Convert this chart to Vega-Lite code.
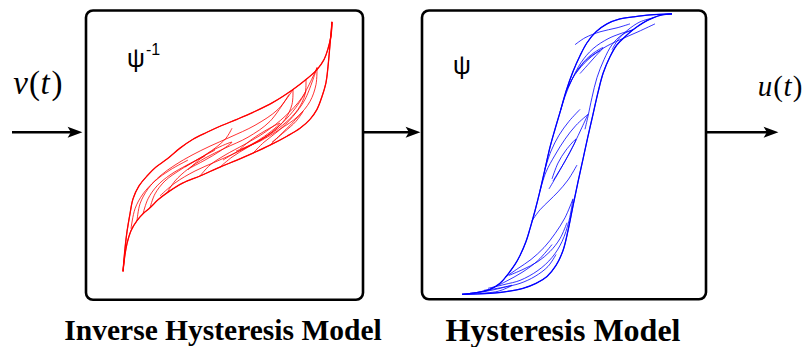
{
  "$schema": "https://vega.github.io/schema/vega-lite/v6.json",
  "width": 804,
  "height": 347,
  "autosize": {"type": "fit", "contains": "padding"},
  "padding": 0,
  "background": "white",
  "config": {"view": {"stroke": null}},
  "datasets": {
    "boxes": [
      {"name": "inverse", "x1": 86, "x2": 363, "y1": 10.5, "y2": 301.5},
      {"name": "direct", "x1": 422, "x2": 706, "y1": 10.5, "y2": 301}
    ],
    "arrows": [
      {"from": 12, "to": 76, "tip": 75, "y": 133},
      {"from": 363, "to": 414, "tip": 413, "y": 133},
      {"from": 706, "to": 772, "tip": 771, "y": 133}
    ],
    "italic": [
      {"t": "v", "x": 20.5, "y": 95, "size": "big"},
      {"t": "t", "x": 45, "y": 95, "size": "big"},
      {"t": "u", "x": 765, "y": 97, "size": "small"},
      {"t": "t", "x": 787.5, "y": 97, "size": "small"}
    ],
    "upright": [
      {"t": "(", "x": 34.5, "y": 95, "size": "big"},
      {"t": ")", "x": 57, "y": 95, "size": "big"},
      {"t": "(", "x": 778, "y": 97, "size": "small"},
      {"t": ")", "x": 797.5, "y": 97, "size": "small"}
    ],
    "psi": [
      {"t": "ψ", "x": 136, "y": 67},
      {"t": "ψ", "x": 462, "y": 74}
    ],
    "sup": [
      {"t": "-1", "x": 153, "y": 55}
    ],
    "titleInverse": [
      {"t": "Inverse Hysteresis Model", "x": 223, "y": 341.5}
    ],
    "titleDirect": [
      {"t": "Hysteresis Model", "x": 563, "y": 342.5}
    ],
    "loops": [
      {"c": "rU", "m": "inverse", "i": 0, "x": 123, "y": 273},
      {"c": "rU", "m": "inverse", "i": 1, "x": 125, "y": 250},
      {"c": "rU", "m": "inverse", "i": 2, "x": 127, "y": 233},
      {"c": "rU", "m": "inverse", "i": 3, "x": 130, "y": 215},
      {"c": "rU", "m": "inverse", "i": 4, "x": 133, "y": 200},
      {"c": "rU", "m": "inverse", "i": 5, "x": 139, "y": 187},
      {"c": "rU", "m": "inverse", "i": 6, "x": 147, "y": 177},
      {"c": "rU", "m": "inverse", "i": 7, "x": 156, "y": 168},
      {"c": "rU", "m": "inverse", "i": 8, "x": 167, "y": 160},
      {"c": "rU", "m": "inverse", "i": 9, "x": 180, "y": 149},
      {"c": "rU", "m": "inverse", "i": 10, "x": 193, "y": 140},
      {"c": "rU", "m": "inverse", "i": 11, "x": 207, "y": 133},
      {"c": "rU", "m": "inverse", "i": 12, "x": 220, "y": 127},
      {"c": "rU", "m": "inverse", "i": 13, "x": 237, "y": 120},
      {"c": "rU", "m": "inverse", "i": 14, "x": 253, "y": 113},
      {"c": "rU", "m": "inverse", "i": 15, "x": 273, "y": 103},
      {"c": "rU", "m": "inverse", "i": 16, "x": 293, "y": 90},
      {"c": "rU", "m": "inverse", "i": 17, "x": 306, "y": 80},
      {"c": "rU", "m": "inverse", "i": 18, "x": 317, "y": 70},
      {"c": "rU", "m": "inverse", "i": 19, "x": 324, "y": 60},
      {"c": "rU", "m": "inverse", "i": 20, "x": 328, "y": 49},
      {"c": "rU", "m": "inverse", "i": 21, "x": 331, "y": 36},
      {"c": "rU", "m": "inverse", "i": 22, "x": 332, "y": 22},

      {"c": "rL", "m": "inverse", "i": 0, "x": 123, "y": 273},
      {"c": "rL", "m": "inverse", "i": 1, "x": 125, "y": 256},
      {"c": "rL", "m": "inverse", "i": 2, "x": 127, "y": 245},
      {"c": "rL", "m": "inverse", "i": 3, "x": 131, "y": 232},
      {"c": "rL", "m": "inverse", "i": 4, "x": 137, "y": 222},
      {"c": "rL", "m": "inverse", "i": 5, "x": 143, "y": 215},
      {"c": "rL", "m": "inverse", "i": 6, "x": 150, "y": 209},
      {"c": "rL", "m": "inverse", "i": 7, "x": 158, "y": 201},
      {"c": "rL", "m": "inverse", "i": 8, "x": 167, "y": 194},
      {"c": "rL", "m": "inverse", "i": 9, "x": 183, "y": 184},
      {"c": "rL", "m": "inverse", "i": 10, "x": 200, "y": 177},
      {"c": "rL", "m": "inverse", "i": 11, "x": 220, "y": 168},
      {"c": "rL", "m": "inverse", "i": 12, "x": 237, "y": 161},
      {"c": "rL", "m": "inverse", "i": 13, "x": 253, "y": 154},
      {"c": "rL", "m": "inverse", "i": 14, "x": 270, "y": 146},
      {"c": "rL", "m": "inverse", "i": 15, "x": 287, "y": 137},
      {"c": "rL", "m": "inverse", "i": 16, "x": 300, "y": 129},
      {"c": "rL", "m": "inverse", "i": 17, "x": 310, "y": 120},
      {"c": "rL", "m": "inverse", "i": 18, "x": 317, "y": 110},
      {"c": "rL", "m": "inverse", "i": 19, "x": 322, "y": 97},
      {"c": "rL", "m": "inverse", "i": 20, "x": 326, "y": 83},
      {"c": "rL", "m": "inverse", "i": 21, "x": 328, "y": 67},
      {"c": "rL", "m": "inverse", "i": 22, "x": 330, "y": 45},
      {"c": "rL", "m": "inverse", "i": 23, "x": 332, "y": 22},

      {"c": "r1", "m": "inverse", "i": 0, "x": 137, "y": 222},
      {"c": "r1", "m": "inverse", "i": 1, "x": 140, "y": 205},
      {"c": "r1", "m": "inverse", "i": 2, "x": 148, "y": 190},
      {"c": "r1", "m": "inverse", "i": 3, "x": 160, "y": 177},
      {"c": "r1", "m": "inverse", "i": 4, "x": 175, "y": 166},
      {"c": "r1", "m": "inverse", "i": 5, "x": 192, "y": 156},
      {"c": "r1", "m": "inverse", "i": 6, "x": 210, "y": 147},
      {"c": "r1", "m": "inverse", "i": 7, "x": 230, "y": 138},
      {"c": "r1", "m": "inverse", "i": 8, "x": 255, "y": 126},
      {"c": "r1", "m": "inverse", "i": 9, "x": 278, "y": 110},
      {"c": "r1", "m": "inverse", "i": 10, "x": 293, "y": 90},

      {"c": "r2", "m": "inverse", "i": 0, "x": 167, "y": 194},
      {"c": "r2", "m": "inverse", "i": 1, "x": 175, "y": 182},
      {"c": "r2", "m": "inverse", "i": 2, "x": 188, "y": 170},
      {"c": "r2", "m": "inverse", "i": 3, "x": 205, "y": 159},
      {"c": "r2", "m": "inverse", "i": 4, "x": 225, "y": 149},
      {"c": "r2", "m": "inverse", "i": 5, "x": 248, "y": 138},
      {"c": "r2", "m": "inverse", "i": 6, "x": 270, "y": 122},
      {"c": "r2", "m": "inverse", "i": 7, "x": 289, "y": 95},

      {"c": "r3", "m": "inverse", "i": 0, "x": 293, "y": 90},
      {"c": "r3", "m": "inverse", "i": 1, "x": 292, "y": 105},
      {"c": "r3", "m": "inverse", "i": 2, "x": 285, "y": 120},
      {"c": "r3", "m": "inverse", "i": 3, "x": 272, "y": 133},
      {"c": "r3", "m": "inverse", "i": 4, "x": 255, "y": 144},
      {"c": "r3", "m": "inverse", "i": 5, "x": 235, "y": 154},
      {"c": "r3", "m": "inverse", "i": 6, "x": 215, "y": 163},
      {"c": "r3", "m": "inverse", "i": 7, "x": 195, "y": 172},
      {"c": "r3", "m": "inverse", "i": 8, "x": 175, "y": 184},
      {"c": "r3", "m": "inverse", "i": 9, "x": 160, "y": 197},

      {"c": "r4", "m": "inverse", "i": 0, "x": 317, "y": 68},
      {"c": "r4", "m": "inverse", "i": 1, "x": 316, "y": 85},
      {"c": "r4", "m": "inverse", "i": 2, "x": 310, "y": 102},
      {"c": "r4", "m": "inverse", "i": 3, "x": 298, "y": 117},
      {"c": "r4", "m": "inverse", "i": 4, "x": 280, "y": 130},
      {"c": "r4", "m": "inverse", "i": 5, "x": 260, "y": 142},
      {"c": "r4", "m": "inverse", "i": 6, "x": 240, "y": 151},
      {"c": "r4", "m": "inverse", "i": 7, "x": 223, "y": 161},

      {"c": "r5", "m": "inverse", "i": 0, "x": 200, "y": 177},
      {"c": "r5", "m": "inverse", "i": 1, "x": 210, "y": 166},
      {"c": "r5", "m": "inverse", "i": 2, "x": 225, "y": 156},
      {"c": "r5", "m": "inverse", "i": 3, "x": 245, "y": 145},
      {"c": "r5", "m": "inverse", "i": 4, "x": 265, "y": 133},
      {"c": "r5", "m": "inverse", "i": 5, "x": 285, "y": 117},
      {"c": "r5", "m": "inverse", "i": 6, "x": 302, "y": 98},
      {"c": "r5", "m": "inverse", "i": 7, "x": 317, "y": 68},

      {"c": "r6", "m": "inverse", "i": 0, "x": 253, "y": 154},
      {"c": "r6", "m": "inverse", "i": 1, "x": 264, "y": 143},
      {"c": "r6", "m": "inverse", "i": 2, "x": 278, "y": 132},
      {"c": "r6", "m": "inverse", "i": 3, "x": 293, "y": 117},
      {"c": "r6", "m": "inverse", "i": 4, "x": 305, "y": 100},
      {"c": "r6", "m": "inverse", "i": 5, "x": 317, "y": 68},

      {"c": "r7", "m": "inverse", "i": 0, "x": 188, "y": 171},
      {"c": "r7", "m": "inverse", "i": 1, "x": 200, "y": 160},
      {"c": "r7", "m": "inverse", "i": 2, "x": 215, "y": 150},
      {"c": "r7", "m": "inverse", "i": 3, "x": 232, "y": 143},
      {"c": "r7", "m": "inverse", "i": 4, "x": 220, "y": 152},
      {"c": "r7", "m": "inverse", "i": 5, "x": 205, "y": 161},
      {"c": "r7", "m": "inverse", "i": 6, "x": 190, "y": 169},

      {"c": "r8", "m": "inverse", "i": 0, "x": 150, "y": 209},
      {"c": "r8", "m": "inverse", "i": 1, "x": 155, "y": 195},
      {"c": "r8", "m": "inverse", "i": 2, "x": 165, "y": 182},
      {"c": "r8", "m": "inverse", "i": 3, "x": 180, "y": 171},
      {"c": "r8", "m": "inverse", "i": 4, "x": 198, "y": 160},
      {"c": "r8", "m": "inverse", "i": 5, "x": 215, "y": 151},

      {"c": "r9", "m": "inverse", "i": 0, "x": 232, "y": 129},
      {"c": "r9", "m": "inverse", "i": 1, "x": 226, "y": 139},
      {"c": "r9", "m": "inverse", "i": 2, "x": 215, "y": 149},
      {"c": "r9", "m": "inverse", "i": 3, "x": 200, "y": 159},
      {"c": "r9", "m": "inverse", "i": 4, "x": 185, "y": 168},

      {"c": "r10", "m": "inverse", "i": 0, "x": 270, "y": 146},
      {"c": "r10", "m": "inverse", "i": 1, "x": 280, "y": 136},
      {"c": "r10", "m": "inverse", "i": 2, "x": 292, "y": 124},
      {"c": "r10", "m": "inverse", "i": 3, "x": 303, "y": 112},
      {"c": "r10", "m": "inverse", "i": 4, "x": 296, "y": 122},
      {"c": "r10", "m": "inverse", "i": 5, "x": 284, "y": 133},
      {"c": "r10", "m": "inverse", "i": 6, "x": 272, "y": 143},

      {"c": "r11", "m": "inverse", "i": 0, "x": 220, "y": 168},
      {"c": "r11", "m": "inverse", "i": 1, "x": 232, "y": 158},
      {"c": "r11", "m": "inverse", "i": 2, "x": 248, "y": 148},
      {"c": "r11", "m": "inverse", "i": 3, "x": 265, "y": 138},
      {"c": "r11", "m": "inverse", "i": 4, "x": 282, "y": 124},
      {"c": "r11", "m": "inverse", "i": 5, "x": 296, "y": 108},
      {"c": "r11", "m": "inverse", "i": 6, "x": 306, "y": 92},

      {"c": "r12", "m": "inverse", "i": 0, "x": 306, "y": 80},
      {"c": "r12", "m": "inverse", "i": 1, "x": 305, "y": 95},
      {"c": "r12", "m": "inverse", "i": 2, "x": 298, "y": 110},
      {"c": "r12", "m": "inverse", "i": 3, "x": 286, "y": 123},
      {"c": "r12", "m": "inverse", "i": 4, "x": 270, "y": 135},
      {"c": "r12", "m": "inverse", "i": 5, "x": 252, "y": 145},
      {"c": "r12", "m": "inverse", "i": 6, "x": 236, "y": 152},

      {"c": "r13", "m": "inverse", "i": 0, "x": 143, "y": 215},
      {"c": "r13", "m": "inverse", "i": 1, "x": 148, "y": 200},
      {"c": "r13", "m": "inverse", "i": 2, "x": 157, "y": 187},
      {"c": "r13", "m": "inverse", "i": 3, "x": 170, "y": 176},
      {"c": "r13", "m": "inverse", "i": 4, "x": 187, "y": 166},
      {"c": "r13", "m": "inverse", "i": 5, "x": 205, "y": 157},

      {"c": "r14", "m": "inverse", "i": 0, "x": 240, "y": 150},
      {"c": "r14", "m": "inverse", "i": 1, "x": 252, "y": 140},
      {"c": "r14", "m": "inverse", "i": 2, "x": 266, "y": 131},
      {"c": "r14", "m": "inverse", "i": 3, "x": 280, "y": 124},
      {"c": "r14", "m": "inverse", "i": 4, "x": 270, "y": 133},
      {"c": "r14", "m": "inverse", "i": 5, "x": 257, "y": 142},
      {"c": "r14", "m": "inverse", "i": 6, "x": 243, "y": 150},

      {"c": "r15", "m": "inverse", "i": 0, "x": 131, "y": 230},
      {"c": "r15", "m": "inverse", "i": 1, "x": 135, "y": 210},
      {"c": "r15", "m": "inverse", "i": 2, "x": 143, "y": 195},
      {"c": "r15", "m": "inverse", "i": 3, "x": 155, "y": 182},
      {"c": "r15", "m": "inverse", "i": 4, "x": 170, "y": 171},
      {"c": "r15", "m": "inverse", "i": 5, "x": 188, "y": 161},

      {"c": "bL", "m": "direct", "i": 0, "x": 462, "y": 296},
      {"c": "bL", "m": "direct", "i": 1, "x": 478, "y": 294},
      {"c": "bL", "m": "direct", "i": 2, "x": 490, "y": 291},
      {"c": "bL", "m": "direct", "i": 3, "x": 500, "y": 285},
      {"c": "bL", "m": "direct", "i": 4, "x": 507, "y": 277},
      {"c": "bL", "m": "direct", "i": 5, "x": 515, "y": 266},
      {"c": "bL", "m": "direct", "i": 6, "x": 520, "y": 257},
      {"c": "bL", "m": "direct", "i": 7, "x": 526, "y": 243},
      {"c": "bL", "m": "direct", "i": 8, "x": 530, "y": 230},
      {"c": "bL", "m": "direct", "i": 9, "x": 535, "y": 212},
      {"c": "bL", "m": "direct", "i": 10, "x": 540, "y": 192},
      {"c": "bL", "m": "direct", "i": 11, "x": 545, "y": 170},
      {"c": "bL", "m": "direct", "i": 12, "x": 550, "y": 148},
      {"c": "bL", "m": "direct", "i": 13, "x": 555, "y": 130},
      {"c": "bL", "m": "direct", "i": 14, "x": 560, "y": 113},
      {"c": "bL", "m": "direct", "i": 15, "x": 566, "y": 92},
      {"c": "bL", "m": "direct", "i": 16, "x": 573, "y": 72},
      {"c": "bL", "m": "direct", "i": 17, "x": 580, "y": 56},
      {"c": "bL", "m": "direct", "i": 18, "x": 587, "y": 43},
      {"c": "bL", "m": "direct", "i": 19, "x": 596, "y": 32},
      {"c": "bL", "m": "direct", "i": 20, "x": 607, "y": 24},
      {"c": "bL", "m": "direct", "i": 21, "x": 620, "y": 19},
      {"c": "bL", "m": "direct", "i": 22, "x": 633, "y": 17},
      {"c": "bL", "m": "direct", "i": 23, "x": 650, "y": 15},
      {"c": "bL", "m": "direct", "i": 24, "x": 672, "y": 14},

      {"c": "bR", "m": "direct", "i": 0, "x": 462, "y": 296},
      {"c": "bR", "m": "direct", "i": 1, "x": 490, "y": 295},
      {"c": "bR", "m": "direct", "i": 2, "x": 508, "y": 293},
      {"c": "bR", "m": "direct", "i": 3, "x": 523, "y": 290},
      {"c": "bR", "m": "direct", "i": 4, "x": 536, "y": 285},
      {"c": "bR", "m": "direct", "i": 5, "x": 547, "y": 278},
      {"c": "bR", "m": "direct", "i": 6, "x": 556, "y": 267},
      {"c": "bR", "m": "direct", "i": 7, "x": 563, "y": 252},
      {"c": "bR", "m": "direct", "i": 8, "x": 568, "y": 232},
      {"c": "bR", "m": "direct", "i": 9, "x": 573, "y": 207},
      {"c": "bR", "m": "direct", "i": 10, "x": 578, "y": 183},
      {"c": "bR", "m": "direct", "i": 11, "x": 583, "y": 160},
      {"c": "bR", "m": "direct", "i": 12, "x": 588, "y": 137},
      {"c": "bR", "m": "direct", "i": 13, "x": 593, "y": 115},
      {"c": "bR", "m": "direct", "i": 14, "x": 598, "y": 93},
      {"c": "bR", "m": "direct", "i": 15, "x": 603, "y": 74},
      {"c": "bR", "m": "direct", "i": 16, "x": 610, "y": 57},
      {"c": "bR", "m": "direct", "i": 17, "x": 617, "y": 45},
      {"c": "bR", "m": "direct", "i": 18, "x": 625, "y": 37},
      {"c": "bR", "m": "direct", "i": 19, "x": 633, "y": 30},
      {"c": "bR", "m": "direct", "i": 20, "x": 643, "y": 23},
      {"c": "bR", "m": "direct", "i": 21, "x": 653, "y": 18},
      {"c": "bR", "m": "direct", "i": 22, "x": 662, "y": 15},
      {"c": "bR", "m": "direct", "i": 23, "x": 672, "y": 14},

      {"c": "b1", "m": "direct", "i": 0, "x": 560, "y": 113},
      {"c": "b1", "m": "direct", "i": 1, "x": 565, "y": 97},
      {"c": "b1", "m": "direct", "i": 2, "x": 572, "y": 80},
      {"c": "b1", "m": "direct", "i": 3, "x": 581, "y": 63},
      {"c": "b1", "m": "direct", "i": 4, "x": 593, "y": 49},
      {"c": "b1", "m": "direct", "i": 5, "x": 608, "y": 39},
      {"c": "b1", "m": "direct", "i": 6, "x": 620, "y": 34},
      {"c": "b1", "m": "direct", "i": 7, "x": 633, "y": 30},

      {"c": "b2", "m": "direct", "i": 0, "x": 633, "y": 30},
      {"c": "b2", "m": "direct", "i": 1, "x": 622, "y": 35},
      {"c": "b2", "m": "direct", "i": 2, "x": 612, "y": 45},
      {"c": "b2", "m": "direct", "i": 3, "x": 604, "y": 60},
      {"c": "b2", "m": "direct", "i": 4, "x": 597, "y": 78},
      {"c": "b2", "m": "direct", "i": 5, "x": 592, "y": 98},
      {"c": "b2", "m": "direct", "i": 6, "x": 588, "y": 117},
      {"c": "b2", "m": "direct", "i": 7, "x": 585, "y": 130},

      {"c": "b3", "m": "direct", "i": 0, "x": 577, "y": 72},
      {"c": "b3", "m": "direct", "i": 1, "x": 584, "y": 62},
      {"c": "b3", "m": "direct", "i": 2, "x": 594, "y": 53},
      {"c": "b3", "m": "direct", "i": 3, "x": 603, "y": 48},
      {"c": "b3", "m": "direct", "i": 4, "x": 596, "y": 56},
      {"c": "b3", "m": "direct", "i": 5, "x": 588, "y": 65},
      {"c": "b3", "m": "direct", "i": 6, "x": 580, "y": 74},

      {"c": "b3b", "m": "direct", "i": 0, "x": 568, "y": 88},
      {"c": "b3b", "m": "direct", "i": 1, "x": 577, "y": 71},
      {"c": "b3b", "m": "direct", "i": 2, "x": 589, "y": 58},
      {"c": "b3b", "m": "direct", "i": 3, "x": 600, "y": 51},

      {"c": "b3c", "m": "direct", "i": 0, "x": 575, "y": 45},
      {"c": "b3c", "m": "direct", "i": 1, "x": 585, "y": 38},
      {"c": "b3c", "m": "direct", "i": 2, "x": 600, "y": 32},
      {"c": "b3c", "m": "direct", "i": 3, "x": 617, "y": 28},
      {"c": "b3c", "m": "direct", "i": 4, "x": 630, "y": 24},

      {"c": "b4", "m": "direct", "i": 0, "x": 540, "y": 192},
      {"c": "b4", "m": "direct", "i": 1, "x": 546, "y": 173},
      {"c": "b4", "m": "direct", "i": 2, "x": 555, "y": 156},
      {"c": "b4", "m": "direct", "i": 3, "x": 565, "y": 140},
      {"c": "b4", "m": "direct", "i": 4, "x": 576, "y": 126},
      {"c": "b4", "m": "direct", "i": 5, "x": 588, "y": 115},

      {"c": "b5", "m": "direct", "i": 0, "x": 588, "y": 115},
      {"c": "b5", "m": "direct", "i": 1, "x": 582, "y": 128},
      {"c": "b5", "m": "direct", "i": 2, "x": 574, "y": 145},
      {"c": "b5", "m": "direct", "i": 3, "x": 565, "y": 162},
      {"c": "b5", "m": "direct", "i": 4, "x": 556, "y": 178},
      {"c": "b5", "m": "direct", "i": 5, "x": 549, "y": 190},

      {"c": "b6", "m": "direct", "i": 0, "x": 552, "y": 180},
      {"c": "b6", "m": "direct", "i": 1, "x": 558, "y": 164},
      {"c": "b6", "m": "direct", "i": 2, "x": 566, "y": 151},
      {"c": "b6", "m": "direct", "i": 3, "x": 576, "y": 140},
      {"c": "b6", "m": "direct", "i": 4, "x": 569, "y": 155},
      {"c": "b6", "m": "direct", "i": 5, "x": 561, "y": 169},
      {"c": "b6", "m": "direct", "i": 6, "x": 553, "y": 182},

      {"c": "b7", "m": "direct", "i": 0, "x": 532, "y": 222},
      {"c": "b7", "m": "direct", "i": 1, "x": 540, "y": 211},
      {"c": "b7", "m": "direct", "i": 2, "x": 549, "y": 202},
      {"c": "b7", "m": "direct", "i": 3, "x": 558, "y": 193},
      {"c": "b7", "m": "direct", "i": 4, "x": 568, "y": 181},
      {"c": "b7", "m": "direct", "i": 5, "x": 577, "y": 166},

      {"c": "b8", "m": "direct", "i": 0, "x": 505, "y": 279},
      {"c": "b8", "m": "direct", "i": 1, "x": 518, "y": 270},
      {"c": "b8", "m": "direct", "i": 2, "x": 531, "y": 261},
      {"c": "b8", "m": "direct", "i": 3, "x": 544, "y": 249},
      {"c": "b8", "m": "direct", "i": 4, "x": 555, "y": 235},
      {"c": "b8", "m": "direct", "i": 5, "x": 565, "y": 219},
      {"c": "b8", "m": "direct", "i": 6, "x": 573, "y": 200},

      {"c": "b9", "m": "direct", "i": 0, "x": 509, "y": 277},
      {"c": "b9", "m": "direct", "i": 1, "x": 523, "y": 271},
      {"c": "b9", "m": "direct", "i": 2, "x": 538, "y": 263},
      {"c": "b9", "m": "direct", "i": 3, "x": 550, "y": 253},
      {"c": "b9", "m": "direct", "i": 4, "x": 560, "y": 240},
      {"c": "b9", "m": "direct", "i": 5, "x": 567, "y": 224},

      {"c": "b10", "m": "direct", "i": 0, "x": 573, "y": 200},
      {"c": "b10", "m": "direct", "i": 1, "x": 569, "y": 222},
      {"c": "b10", "m": "direct", "i": 2, "x": 562, "y": 243},
      {"c": "b10", "m": "direct", "i": 3, "x": 552, "y": 259},
      {"c": "b10", "m": "direct", "i": 4, "x": 538, "y": 272},
      {"c": "b10", "m": "direct", "i": 5, "x": 520, "y": 282},
      {"c": "b10", "m": "direct", "i": 6, "x": 505, "y": 286},
      {"c": "b10", "m": "direct", "i": 7, "x": 488, "y": 290},

      {"c": "b11", "m": "direct", "i": 0, "x": 484, "y": 292},
      {"c": "b11", "m": "direct", "i": 1, "x": 503, "y": 289},
      {"c": "b11", "m": "direct", "i": 2, "x": 520, "y": 285},
      {"c": "b11", "m": "direct", "i": 3, "x": 535, "y": 278},
      {"c": "b11", "m": "direct", "i": 4, "x": 548, "y": 268},
      {"c": "b11", "m": "direct", "i": 5, "x": 556, "y": 256},

      {"c": "b12", "m": "direct", "i": 0, "x": 470, "y": 295},
      {"c": "b12", "m": "direct", "i": 1, "x": 486, "y": 293},
      {"c": "b12", "m": "direct", "i": 2, "x": 500, "y": 290},
      {"c": "b12", "m": "direct", "i": 3, "x": 512, "y": 287},
      {"c": "b12", "m": "direct", "i": 4, "x": 498, "y": 293},
      {"c": "b12", "m": "direct", "i": 5, "x": 480, "y": 295},

      {"c": "b13", "m": "direct", "i": 0, "x": 566, "y": 92},
      {"c": "b13", "m": "direct", "i": 1, "x": 575, "y": 75},
      {"c": "b13", "m": "direct", "i": 2, "x": 588, "y": 60},
      {"c": "b13", "m": "direct", "i": 3, "x": 604, "y": 48},
      {"c": "b13", "m": "direct", "i": 4, "x": 620, "y": 40},
      {"c": "b13", "m": "direct", "i": 5, "x": 638, "y": 32},
      {"c": "b13", "m": "direct", "i": 6, "x": 655, "y": 24},

      {"c": "b14", "m": "direct", "i": 0, "x": 653, "y": 18},
      {"c": "b14", "m": "direct", "i": 1, "x": 640, "y": 22},
      {"c": "b14", "m": "direct", "i": 2, "x": 628, "y": 30},
      {"c": "b14", "m": "direct", "i": 3, "x": 618, "y": 40},
      {"c": "b14", "m": "direct", "i": 4, "x": 612, "y": 50},

      {"c": "b15", "m": "direct", "i": 0, "x": 545, "y": 170},
      {"c": "b15", "m": "direct", "i": 1, "x": 551, "y": 152},
      {"c": "b15", "m": "direct", "i": 2, "x": 559, "y": 136},
      {"c": "b15", "m": "direct", "i": 3, "x": 569, "y": 122},
      {"c": "b15", "m": "direct", "i": 4, "x": 580, "y": 110},

      {"c": "b16", "m": "direct", "i": 0, "x": 490, "y": 291},
      {"c": "b16", "m": "direct", "i": 1, "x": 506, "y": 283},
      {"c": "b16", "m": "direct", "i": 2, "x": 522, "y": 274},
      {"c": "b16", "m": "direct", "i": 3, "x": 538, "y": 262},
      {"c": "b16", "m": "direct", "i": 4, "x": 552, "y": 246}
    ]
  },
  "layer": [
    {
      "data": {"name": "boxes"},
      "mark": {"type": "rect", "fill": "white", "stroke": "black", "strokeWidth": 2.6, "cornerRadius": 7},
      "encoding": {
        "x": {"field": "x1", "type": "quantitative", "scale": {"domain": [0, 804], "nice": false, "zero": false}, "axis": null},
        "x2": {"field": "x2"},
        "y": {"field": "y1", "type": "quantitative", "scale": {"domain": [0, 347], "nice": false, "zero": false, "reverse": true}, "axis": null},
        "y2": {"field": "y2"}
      }
    },
    {
      "data": {"name": "loops"},
      "mark": {"type": "line", "interpolate": "catmull-rom", "strokeWidth": 1, "opacity": 0.8},
      "encoding": {
        "x": {"field": "x", "type": "quantitative"},
        "y": {"field": "y", "type": "quantitative"},
        "detail": {"field": "c"},
        "order": {"field": "i", "type": "quantitative"},
        "color": {"field": "m", "type": "nominal", "scale": {"domain": ["inverse", "direct"], "range": ["#ff0000", "#0000ff"]}, "legend": null}
      }
    },
    {
      "data": {"name": "loops"},
      "transform": [{"filter": {"field": "c", "oneOf": ["rU", "rL", "bL", "bR"]}}],
      "mark": {"type": "line", "interpolate": "catmull-rom", "strokeWidth": 1.3},
      "encoding": {
        "x": {"field": "x", "type": "quantitative"},
        "y": {"field": "y", "type": "quantitative"},
        "detail": {"field": "c"},
        "order": {"field": "i", "type": "quantitative"},
        "color": {"field": "m", "type": "nominal", "scale": {"domain": ["inverse", "direct"], "range": ["#ff0000", "#0000ff"]}, "legend": null}
      }
    },
    {
      "data": {"name": "arrows"},
      "mark": {"type": "rule", "color": "black", "strokeWidth": 2.6},
      "encoding": {
        "x": {"field": "from", "type": "quantitative"},
        "x2": {"field": "to"},
        "y": {"field": "y", "type": "quantitative"}
      }
    },
    {
      "data": {"name": "arrows"},
      "mark": {"type": "point", "shape": "M 1 0 L -1 -0.75 L -0.55 0 L -1 0.75 Z", "filled": true, "color": "black", "opacity": 1, "size": 220},
      "encoding": {
        "x": {"field": "tip", "type": "quantitative"},
        "y": {"field": "y", "type": "quantitative"}
      }
    },
    {
      "data": {"name": "italic"},
      "mark": {"type": "text", "font": "Liberation Serif", "fontStyle": "italic", "align": "center", "baseline": "alphabetic", "color": "black"},
      "encoding": {
        "x": {"field": "x", "type": "quantitative"},
        "y": {"field": "y", "type": "quantitative"},
        "text": {"field": "t"},
        "size": {"field": "size", "type": "nominal", "scale": {"domain": ["big", "small"], "range": [33, 29]}, "legend": null}
      }
    },
    {
      "data": {"name": "upright"},
      "mark": {"type": "text", "font": "Liberation Serif", "align": "center", "baseline": "alphabetic", "color": "black"},
      "encoding": {
        "x": {"field": "x", "type": "quantitative"},
        "y": {"field": "y", "type": "quantitative"},
        "text": {"field": "t"},
        "size": {"field": "size", "type": "nominal", "scale": {"domain": ["big", "small"], "range": [33, 29]}, "legend": null}
      }
    },
    {
      "data": {"name": "psi"},
      "mark": {"type": "text", "font": "Liberation Sans", "fontSize": 25, "align": "center", "baseline": "alphabetic", "color": "black"},
      "encoding": {
        "x": {"field": "x", "type": "quantitative"},
        "y": {"field": "y", "type": "quantitative"},
        "text": {"field": "t"}
      }
    },
    {
      "data": {"name": "sup"},
      "mark": {"type": "text", "font": "Liberation Sans", "fontSize": 16, "align": "center", "baseline": "alphabetic", "color": "black"},
      "encoding": {
        "x": {"field": "x", "type": "quantitative"},
        "y": {"field": "y", "type": "quantitative"},
        "text": {"field": "t"}
      }
    },
    {
      "data": {"name": "titleInverse"},
      "mark": {"type": "text", "font": "Liberation Serif", "fontWeight": "bold", "fontSize": 29.5, "align": "center", "baseline": "alphabetic", "color": "black"},
      "encoding": {
        "x": {"field": "x", "type": "quantitative"},
        "y": {"field": "y", "type": "quantitative"},
        "text": {"field": "t"}
      }
    },
    {
      "data": {"name": "titleDirect"},
      "mark": {"type": "text", "font": "Liberation Serif", "fontWeight": "bold", "fontSize": 32, "align": "center", "baseline": "alphabetic", "color": "black"},
      "encoding": {
        "x": {"field": "x", "type": "quantitative"},
        "y": {"field": "y", "type": "quantitative"},
        "text": {"field": "t"}
      }
    }
  ]
}
